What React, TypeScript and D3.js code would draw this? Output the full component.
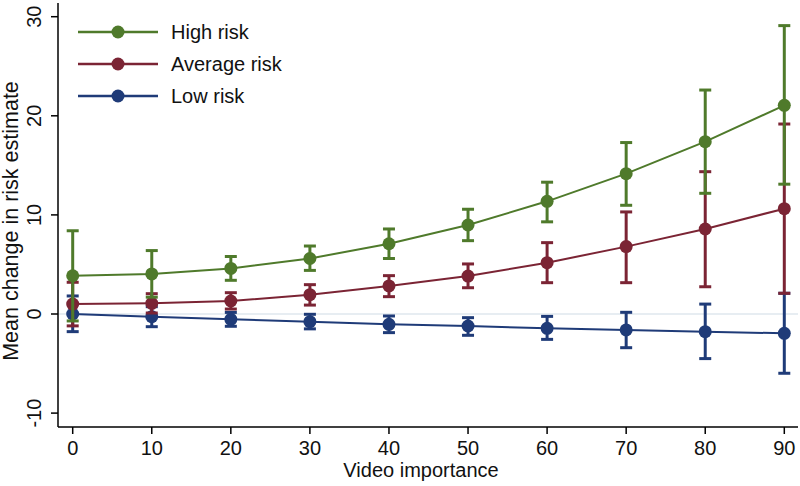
import React from "react";
import * as d3 from "d3";

const xValues = [0, 10, 20, 30, 40, 50, 60, 70, 80, 90];
const yTicks = [-10, 0, 10, 20, 30];
const xTicks = [0, 10, 20, 30, 40, 50, 60, 70, 80, 90];

const highMean = [3.86, 4.04, 4.6, 5.6, 7.09, 8.98, 11.37, 14.16, 17.39, 21.06];
const highLo = [-0.7, 1.7, 3.4, 4.4, 5.6, 7.4, 9.3, 10.97, 12.18, 13.1];
const highHi = [8.4, 6.4, 5.8, 6.86, 8.58, 10.57, 13.3, 17.3, 22.6, 29.1];

const avgMean = [1.0, 1.08, 1.31, 1.95, 2.83, 3.83, 5.18, 6.8, 8.58, 10.63];
const avgLo = [-1.2, 0.1, 0.5, 0.9, 1.75, 2.65, 3.16, 3.16, 2.75, 2.09];
const avgHi = [3.2, 2.05, 2.15, 2.96, 3.87, 5.05, 7.2, 10.3, 14.36, 19.17];

const lowMean = [0.0, -0.27, -0.54, -0.77, -1.04, -1.21, -1.45, -1.61, -1.78, -1.95];
const lowLo = [-1.78, -1.28, -1.24, -1.5, -1.88, -2.15, -2.56, -3.4, -4.5, -5.98];
const lowHi = [1.82, 0.74, 0.16, -0.03, -0.2, -0.37, -0.24, 0.17, 1.0, 2.09];

const seriesNames = ["High risk", "Average risk", "Low risk"];
const seriesColors = ["#4f7a2b", "#7b2434", "#1f3b78"];

const series = [
  { name: seriesNames[0], color: seriesColors[0], mean: highMean, lo: highLo, hi: highHi },
  { name: seriesNames[1], color: seriesColors[1], mean: avgMean, lo: avgLo, hi: avgHi },
  { name: seriesNames[2], color: seriesColors[2], mean: lowMean, lo: lowLo, hi: lowHi },
];

export default function App() {
  const W = 800, H = 486;
  const left = 58, right = 798, top = 3, bottom = 427;
  const x = d3.scaleLinear().domain([0, 90]).range([72.7, 784.3]);
  const y = d3.scaleLinear().domain([0, 30]).range([314, 16.7]);
  const font = "'Liberation Sans', Arial, sans-serif";
  const fs = 20;
  const line = d3.line<number>().x((_, i) => x(xValues[i])).y((d) => y(d));
  const cap = 6;
  const drawOrder = [2, 1, 0];
  return (
    <svg width={W} height={H} style={{ position: "absolute", left: 0, top: 0, background: "#fff" }}>
      <rect x={0} y={0} width={W} height={H} fill="#fff" />
      <line x1={left} x2={right} y1={y(0)} y2={y(0)} stroke="#dfe7ee" strokeWidth={1.5} />
      {drawOrder.map((si) => {
        const s = series[si];
        return (
          <g key={s.name}>
            <path d={line(s.mean) || ""} fill="none" stroke={s.color} strokeWidth={2} />
            {xValues.map((xv, i) => (
              <g key={i} stroke={s.color} strokeWidth={3}>
                <line x1={x(xv)} x2={x(xv)} y1={y(s.lo[i])} y2={y(s.hi[i])} />
                <line x1={x(xv) - cap} x2={x(xv) + cap} y1={y(s.lo[i])} y2={y(s.lo[i])} />
                <line x1={x(xv) - cap} x2={x(xv) + cap} y1={y(s.hi[i])} y2={y(s.hi[i])} />
              </g>
            ))}
            {xValues.map((xv, i) => (
              <circle key={"c" + i} cx={x(xv)} cy={y(s.mean[i])} r={6.5} fill={s.color} />
            ))}
          </g>
        );
      })}
      <line x1={left} x2={left} y1={top} y2={bottom} stroke="#000" strokeWidth={1.5} />
      <line x1={left} x2={right} y1={bottom} y2={bottom} stroke="#000" strokeWidth={1.5} />
      {yTicks.map((t) => (
        <g key={t}>
          <line x1={left - 7} x2={left} y1={y(t)} y2={y(t)} stroke="#000" strokeWidth={1.5} />
          <text
            transform={`translate(${41},${y(t)}) rotate(-90)`}
            textAnchor="middle"
            fontFamily={font}
            fontSize={fs}
            fill="#111"
          >
            {t}
          </text>
        </g>
      ))}
      {xTicks.map((t) => (
        <g key={t}>
          <line x1={x(t)} x2={x(t)} y1={bottom} y2={bottom + 7} stroke="#000" strokeWidth={1.5} />
          <text x={x(t)} y={455} textAnchor="middle" fontFamily={font} fontSize={fs} fill="#111">
            {t}
          </text>
        </g>
      ))}
      <text x={421} y={477} textAnchor="middle" fontFamily={font} fontSize={fs} fill="#111">
        Video importance
      </text>
      <text
        transform={`translate(${18},${221}) rotate(-90)`}
        textAnchor="middle"
        fontFamily={font}
        fontSize={21.5}
        fill="#111"
      >
        Mean change in risk estimate
      </text>
      {series.map((s, i) => {
        const ly = 32 + i * 32;
        return (
          <g key={"lg" + i}>
            <line x1={78} x2={158} y1={ly} y2={ly} stroke={s.color} strokeWidth={2.5} />
            <circle cx={118} cy={ly} r={6.5} fill={s.color} />
            <text x={171} y={ly + 7} fontFamily={font} fontSize={fs} fill="#111">
              {s.name}
            </text>
          </g>
        );
      })}
    </svg>
  );
}
